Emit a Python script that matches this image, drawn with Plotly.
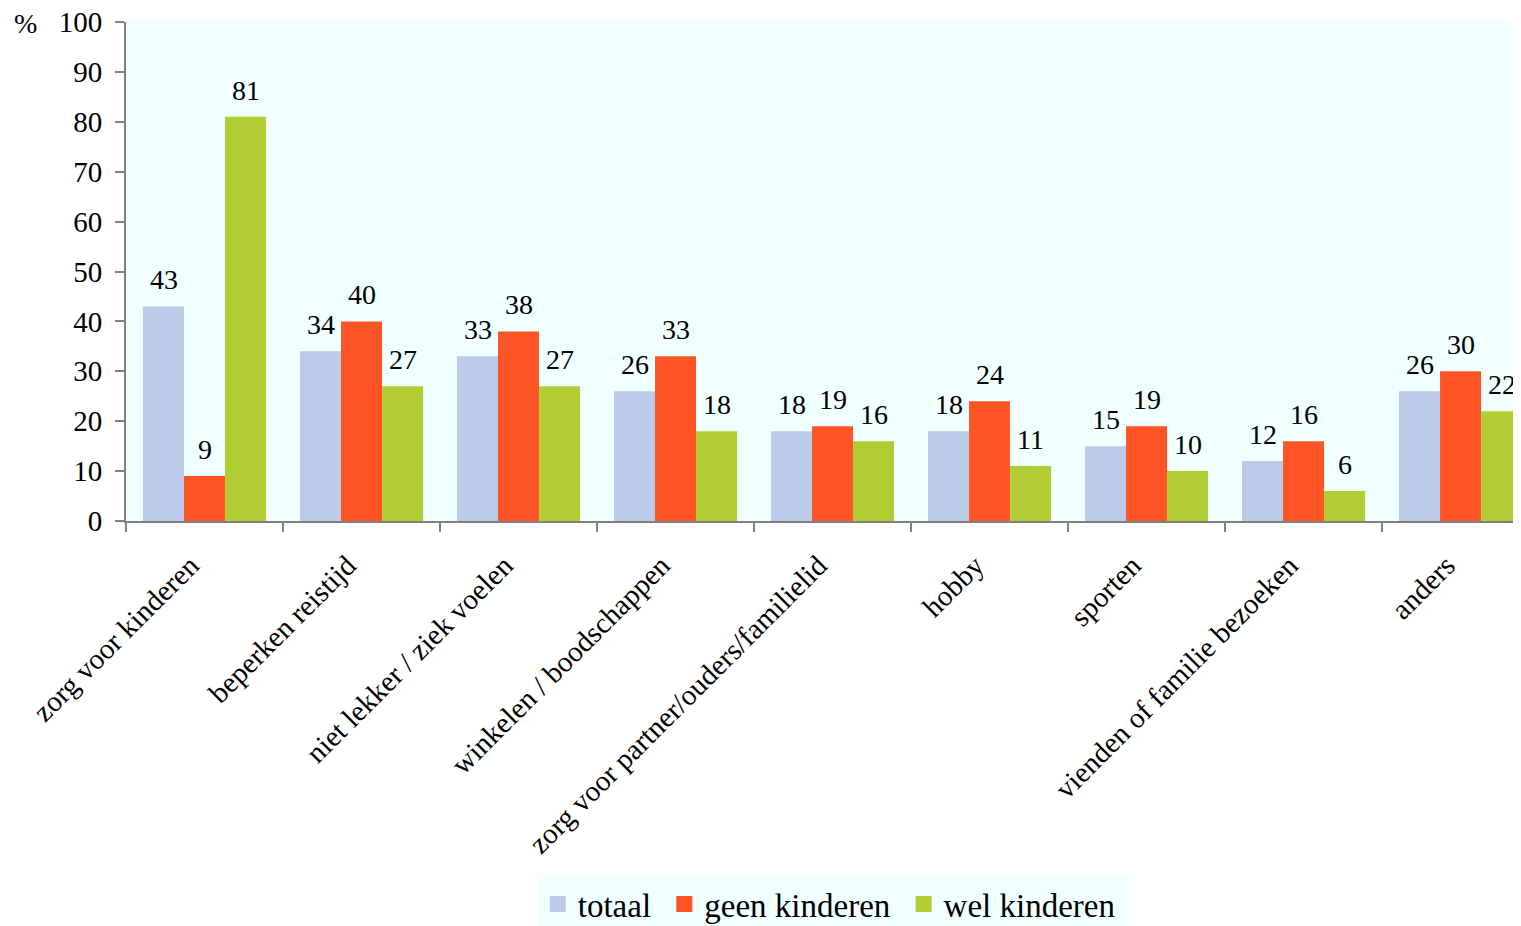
import plotly.graph_objects as go

categories = ["zorg voor kinderen", "beperken reistijd", "niet lekker / ziek voelen",
              "winkelen / boodschappen", "zorg voor partner/ouders/familielid", "hobby",
              "sporten", "vienden of familie bezoeken", "anders"]
totaal = [43, 34, 33, 26, 18, 18, 15, 12, 26]
geen_kinderen = [9, 40, 38, 33, 19, 24, 19, 16, 30]
wel_kinderen = [81, 27, 27, 18, 16, 11, 10, 6, 22]
y_ticks = list(range(0, 101, 10))

series = [("totaal", totaal, "#BBCCEA"),
          ("geen kinderen", geen_kinderen, "#FF5526"),
          ("wel kinderen", wel_kinderen, "#B2CC33")]

FONT = "Liberation Serif, Times New Roman, serif"
# pixel offsets of value labels relative to group centre (style only)
label_xshift = [-41, 0, 41]

fig = go.Figure()
annotations = []
for (name, vals, col), xs in zip(series, label_xshift):
    fig.add_trace(go.Bar(
        x=categories, y=vals, name=name, marker_color=col, marker_line_width=0,
        showlegend=False,
    ))
    for cat, v in zip(categories, vals):
        annotations.append(dict(
            x=cat, y=v, xref="x", yref="y", text=str(v), showarrow=False,
            xanchor="center", yanchor="bottom", xshift=xs, yshift=9,
            font=dict(family=FONT, size=28, color="black"),
        ))
# legend entries with larger square symbols
for name, vals, col in series:
    fig.add_trace(go.Scatter(
        x=[None], y=[None], mode="markers", name=name + "\u00a0",
        marker=dict(symbol="square", size=22, color=col), showlegend=True,
    ))

annotations.append(dict(text="%", xref="paper", yref="paper", x=-0.072, y=1.0,
                        xanchor="center", yanchor="middle", yshift=-1, showarrow=False,
                        font=dict(family=FONT, size=28, color="black")))

fig.update_layout(
    width=1513, height=918,
    margin=dict(l=118, r=0, t=14, b=405, autoexpand=False),
    paper_bgcolor="white", plot_bgcolor="#F0FFFF",
    barmode="group", bargap=0.216, bargroupgap=0,
    font=dict(family=FONT, size=28, color="black"),
    showlegend=True,
    legend=dict(orientation="h", x=0.507, xanchor="center", xref="paper",
                y=-0.7114, yanchor="top", yref="paper",
                bgcolor="#F0FFFF", font=dict(family=FONT, size=33, color="black"),
                itemsizing="trace", traceorder="normal", itemwidth=30,
                tracegroupgap=0),
    annotations=annotations,
)
fig.update_xaxes(
    type="category", range=[-0.5, 8.385], tickangle=-45,
    showline=True, linecolor="#808080", linewidth=2,
    ticks="outside", tickson="boundaries", ticklen=9, tickcolor="#808080", tickwidth=1.5,
    tickfont=dict(family=FONT, size=29, color="black"),
    ticklabelstandoff=14, ticklabelshift=-14,
    showgrid=False, automargin=False,
)
fig.update_yaxes(
    range=[0, 100], tickvals=y_ticks, ticktext=[str(v) for v in y_ticks],
    showline=True, linecolor="#808080", linewidth=2,
    ticks="outside", ticklen=9, tickcolor="#808080", tickwidth=1.5,
    tickfont=dict(family=FONT, size=29, color="black"),
    ticklabelstandoff=7, ticklabeloverflow="allow",
    showgrid=False, zeroline=False, automargin=False,
)

fig.write_html("out.html")
